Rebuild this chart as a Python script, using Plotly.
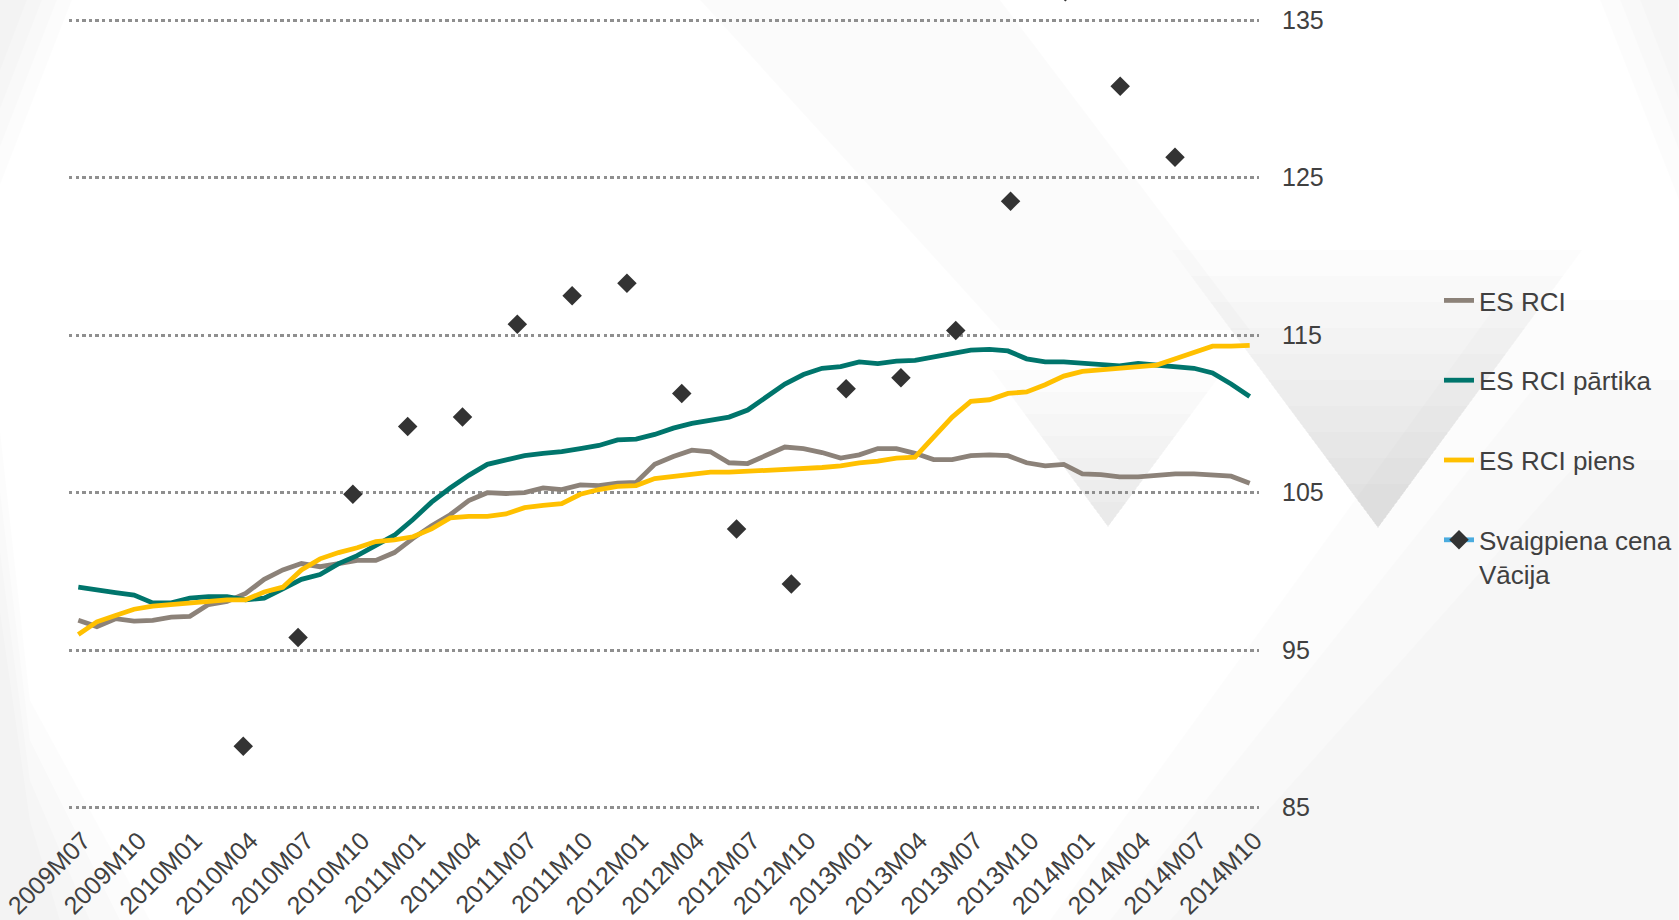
import plotly.graph_objects as go

# ---------------- data ----------------
months = [f"{y}M{m:02d}" for y in range(2009, 2015) for m in range(1, 13)]
months = months[months.index("2009M07"): months.index("2014M10") + 1]
tick_labels = months[::3]

es_rci = [96.9, 96.5, 97.0, 96.85, 96.9, 97.1, 97.15, 97.9, 98.1, 98.6, 99.5, 100.1,
          100.5, 100.3, 100.5, 100.7, 100.7, 101.2, 102.1, 102.9, 103.6, 104.5, 105.0, 104.95,
          105.0, 105.3, 105.2, 105.5, 105.45, 105.6, 105.65, 106.8, 107.3, 107.7, 107.6, 106.9,
          106.85, 107.4, 107.9, 107.8, 107.55, 107.2, 107.4, 107.8, 107.8, 107.5, 107.1, 107.1,
          107.35, 107.4, 107.35, 106.9, 106.7, 106.8, 106.2, 106.15, 106.0, 106.0, 106.1, 106.2,
          106.2, 106.1, 106.05, 105.6]

es_rci_partika = [99.0, 98.8, 98.65, 98.5, 98.0, 98.0, 98.3, 98.4, 98.4, 98.2, 98.3, 98.9,
                  99.5, 99.8, 100.5, 101.0, 101.65, 102.3, 103.3, 104.4, 105.3, 106.1, 106.8, 107.1,
                  107.35, 107.5, 107.6, 107.8, 108.0, 108.35, 108.4, 108.7, 109.1, 109.4, 109.6, 109.8,
                  110.25, 111.1, 111.9, 112.5, 112.9, 113.0, 113.3, 113.2, 113.35, 113.4, 113.6, 113.85,
                  114.05, 114.1, 114.0, 113.5, 113.3, 113.3, 113.2, 113.1, 113.05, 113.2, 113.1, 113.0,
                  112.9, 112.6, 111.9, 111.1]

es_rci_piens = [96.0, 96.8, 97.2, 97.6, 97.8, 97.9, 97.95, 98.1, 98.2, 98.2, 98.7, 99.0,
                100.1, 100.8, 101.2, 101.5, 101.9, 102.0, 102.2, 102.7, 103.4, 103.5, 103.5, 103.65,
                104.05, 104.2, 104.3, 104.9, 105.2, 105.4, 105.45, 105.9, 106.05, 106.2, 106.3, 106.3,
                106.35, 106.4, 106.5, 106.55, 106.6, 106.7, 106.9, 107.0, 107.2, 107.25, 108.5, 109.8,
                110.8, 110.9, 111.3, 111.4, 111.85, 112.4, 112.7, 112.8, 112.9, 113.0, 113.1, 113.5,
                113.9, 114.3, 114.3, 114.35]

# fresh milk price, Germany (quarterly observations, index of observation)
milk_idx = list(range(18))
milk_price = [88.9, 95.8, 104.9, 109.2, 109.8, 115.7, 117.5, 118.3, 111.3, 102.7,
              99.2, 111.6, 112.3, 115.3, 123.5, 136.8, 130.8, 126.3]

# ---------------- style ----------------
W, H = 1679, 920
ML, MR, MT, MB = 69, 420, 0, 100
PW, PH = W - ML - MR, H - MT - MB
FONT = "Liberation Sans, Arial, sans-serif"
TXT = "#404040"
GRAY, TEAL, YELLOW = "#8C8279", "#00756C", "#FFC000"
LW = 4.8


def px_path(points):
    """Convert page pixel points into a paper-referenced SVG path."""
    segs = []
    for k, (px, py) in enumerate(points):
        xp = (px - ML) / PW
        yp = 1 - (py - MT) / PH
        segs.append(("M" if k == 0 else "L") + f"{xp:.4f},{yp:.4f}")
    return " ".join(segs) + " Z"


fig = go.Figure()

fig.add_trace(go.Scatter(x=months, y=es_rci, mode="lines", name="ES RCI",
                         line=dict(color=GRAY, width=LW), legendgroup="a"))
fig.add_trace(go.Scatter(x=months, y=es_rci_partika, mode="lines", name="ES RCI pārtika",
                         line=dict(color=TEAL, width=LW), legendgroup="b"))
fig.add_trace(go.Scatter(x=months, y=es_rci_piens, mode="lines", name="ES RCI piens",
                         line=dict(color=YELLOW, width=LW), legendgroup="c"))
fig.add_trace(go.Scatter(x=[None], y=[None], mode="lines+markers",
                         name="Svaigpiena cena<br>Vācija", legendgroup="d",
                         line=dict(color="#4BACDF", width=LW),
                         marker=dict(symbol="diamond", size=15, color="#333333")))
fig.add_trace(go.Scatter(x=milk_idx, y=milk_price, mode="markers", xaxis="x2",
                         showlegend=False, legendgroup="d",
                         marker=dict(symbol="diamond", size=15, color="#333333")))

# decorative background shapes (light grey facets), layered to fade
bg = []
for k in range(10):
    top = 250 + k * 26
    dy = 528 - top
    bg.append((px_path([(1378 - 0.743 * dy, top), (1378 + 0.735 * dy, top), (1378, 528)]), 0.011))
for k in range(7):
    top = 370 + k * 22
    dy = 527 - top
    bg.append((px_path([(1108 - 0.74 * dy, top), (1108 + 0.74 * dy, top), (1108, 527)]), 0.011))
for k in range(4):
    bg.append((px_path([(0, 0), (72 - 15 * k, 0), (0, 185 - 38 * k)]), 0.012))
for k in range(4):
    bg.append((px_path([(0, 430 + 60 * k), (0, 920), (150 - 30 * k, 920), (30, 700 + 40 * k)]), 0.01))
bg.append((px_path([(700, 0), (1000, 0), (1250, 330), (1000, 330)]), 0.015))
for k in range(3):
    bg.append((px_path([(1600 + 20 * k, 0), (1679, 0), (1679, 200 - 50 * k)]), 0.012))
for k in range(3):
    bg.append((px_path([(1050 + 60 * k, 920), (1500 + 40 * k, 300 + 80 * k), (1679, 300 + 80 * k), (1679, 920)]), 0.01))

shapes = [dict(type="path", xref="paper", yref="paper", path=p, layer="below",
               fillcolor=f"rgba(0,0,0,{op})", line=dict(width=0)) for p, op in bg]

fig.update_layout(
    width=W, height=H,
    margin=dict(l=ML, r=MR, t=MT, b=MB),
    paper_bgcolor="white", plot_bgcolor="rgba(0,0,0,0)",
    font=dict(family=FONT, size=25, color=TXT),
    shapes=shapes,
    showlegend=True,
    legend=dict(xref="container", yref="container", x=1439 / W, xanchor="left",
                y=1 - 277 / H, yanchor="top", font=dict(size=26, color=TXT),
                tracegroupgap=43, bgcolor="rgba(0,0,0,0)", traceorder="grouped",
                valign="top"),
    xaxis=dict(type="category", range=[-0.5, len(months) - 0.5],
               tickmode="array", tickvals=tick_labels, ticktext=tick_labels,
               tickangle=-45, showgrid=False, zeroline=False, showline=False,
               ticks="", ticklabelshift=5, tickfont=dict(size=25, color=TXT)),
    xaxis2=dict(overlaying="x", range=[-3.18, 18.533], visible=False),
    yaxis=dict(side="right", range=[84.22, 136.28], tickvals=[85, 95, 105, 115, 125, 135],
               showgrid=True, gridcolor="#8F8F8F", gridwidth=3, griddash="3.3px,3.3px",
               zeroline=False, showline=False, ticks="", ticklabelstandoff=22,
               tickfont=dict(size=25, color=TXT)),
)

fig.write_html("out.html", config={"displayModeBar": False},
               post_script="document.body.style.margin='0';document.body.style.overflow='hidden';")
